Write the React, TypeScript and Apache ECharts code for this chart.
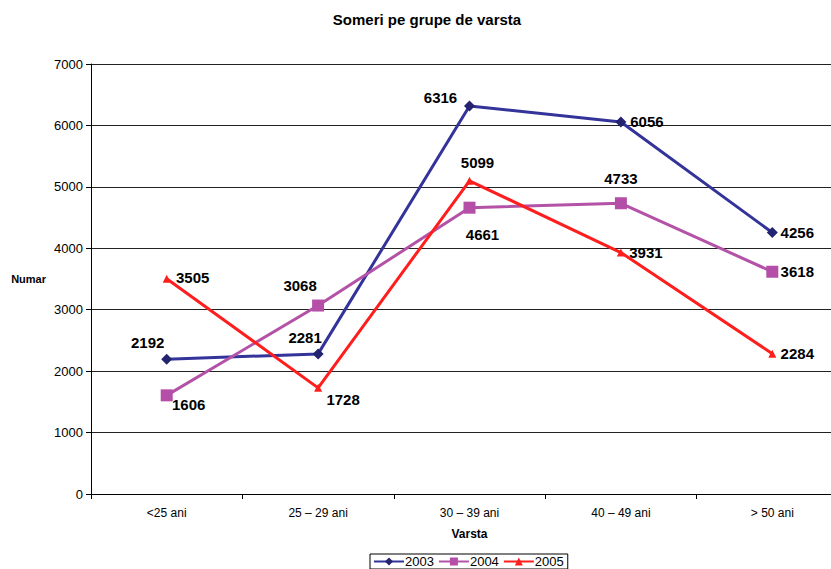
import React, { useEffect, useRef } from "react";
import * as echarts from "echarts";

const categories = ["<25 ani", "25 – 29 ani", "30 – 39 ani", "40 – 49 ani", "> 50 ani"];
const seriesNames = ["2003", "2004", "2005"];
const values2003 = [2192, 2281, 6316, 6056, 4256];
const values2004 = [1606, 3068, 4661, 4733, 3618];
const values2005 = [3505, 1728, 5099, 3931, 2284];
const yTicks = { min: 0, max: 7000, interval: 1000 };

// label offsets (px) relative to each marker
const offsets2003 = [[-19, -17], [-13, -16], [-29, -9], [26, 0], [25, 0]];
const offsets2004 = [[22, 9], [-18, -20], [13, 27], [0, -25], [25, 0]];
const offsets2005 = [[26, -1], [25, 12], [8, -18], [25, 0], [25, 0]];

const FONT = "Arial, 'Liberation Sans', sans-serif";

export default function App() {
  const ref = useRef<HTMLDivElement>(null);
  useEffect(() => {
    if (!ref.current) return;
    const chart = echarts.init(ref.current, undefined, { renderer: "svg" });
    const mk = (
      name: string,
      vals: number[],
      offs: number[][],
      lineColor: string,
      markColor: string,
      symbol: string,
      size: number
    ) => ({
      name,
      type: "line",
      data: vals.map((v, i) => ({ value: v, label: { offset: offs[i] } })),
      symbol,
      symbolSize: size,
      lineStyle: { color: lineColor, width: 3 },
      itemStyle: { color: markColor },
      label: {
        show: true,
        position: "inside",
        fontFamily: FONT,
        fontWeight: "bold",
        fontSize: 15,
        color: "#000",
      },
      z: 3,
    });
    chart.setOption({
      animation: false,
      textStyle: { fontFamily: FONT },
      title: {
        text: "Someri pe grupe de varsta",
        left: 422,
        textAlign: "center",
        top: 7,
        textStyle: { fontFamily: FONT, fontWeight: "bold", fontSize: 15, color: "#000" },
      },
      legend: {
        data: seriesNames,
        left: 370,
        top: 554,
        itemWidth: 30,
        itemHeight: 10,
        itemGap: 4,
        padding: [1, 4, 1, 3],
        borderColor: "#000",
        borderWidth: 1,
        textStyle: { fontFamily: FONT, fontSize: 13, lineHeight: 13, color: "#000", padding: [0, 0, 0, -4] },
      },
      grid: { left: 91, right: -17, top: 64, bottom: 75, containLabel: false, outerBoundsMode: "none" },
      xAxis: {
        type: "category",
        data: categories,
        boundaryGap: true,
        name: "Varsta",
        nameLocation: "middle",
        nameGap: 34,
        nameTextStyle: { fontFamily: FONT, fontWeight: "bold", fontSize: 12, color: "#000" },
        axisLine: { lineStyle: { color: "#000", width: 1 } },
        axisTick: { show: true, length: 5, lineStyle: { color: "#000" } },
        axisLabel: { fontFamily: FONT, fontSize: 12, color: "#000", margin: 13 },
      },
      yAxis: {
        type: "value",
        min: yTicks.min,
        max: yTicks.max,
        interval: yTicks.interval,
        name: "Numar",
        nameLocation: "middle",
        nameRotate: 0,
        nameGap: 45,
        nameTextStyle: { fontFamily: FONT, fontWeight: "bold", fontSize: 11, color: "#000" },
        axisLine: { show: true, lineStyle: { color: "#000", width: 1 } },
        axisTick: { show: true, length: 5, lineStyle: { color: "#000" } },
        axisLabel: { fontFamily: FONT, fontSize: 13, color: "#000", margin: 8, formatter: (v: number) => String(v) },
        splitLine: { show: true, lineStyle: { color: "#222", width: 1 } },
      },
      series: [
        mk(seriesNames[0], values2003, offsets2003, "#333399", "#23236F", "diamond", 11),
        mk(seriesNames[1], values2004, offsets2004, "#B452A8", "#B44EA6", "rect", 12),
        mk(seriesNames[2], values2005, offsets2005, "#FF1E1E", "#FF1E1E", "triangle", 8),
      ],
    });
    return () => chart.dispose();
  }, []);
  return <div ref={ref} style={{ width: 831, height: 569, position: "absolute", left: 0, top: 0 }} />;
}
